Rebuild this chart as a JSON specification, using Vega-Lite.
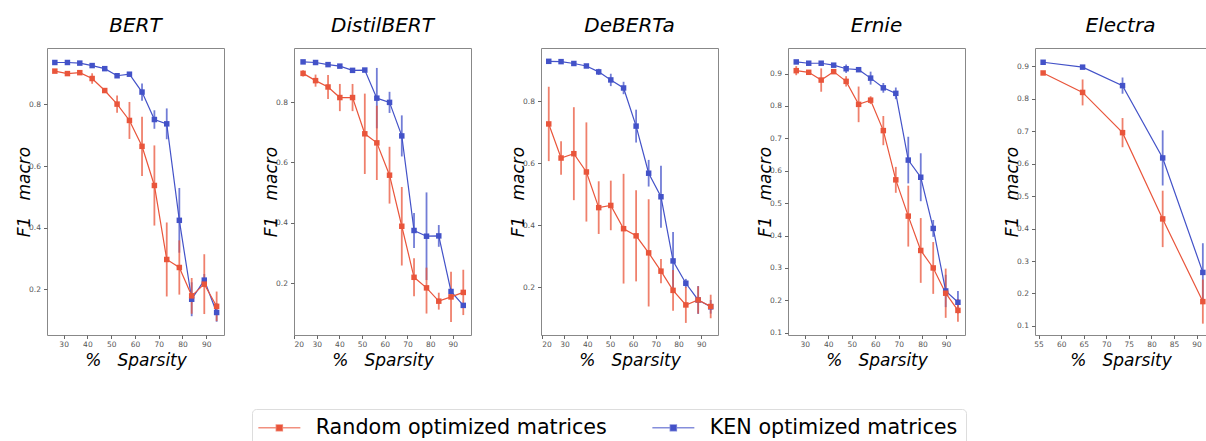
{
  "$schema": "https://vega.github.io/schema/vega-lite/v6.json",
  "autosize": {"type": "none"},
  "padding": {"left": 47, "top": 48, "right": 1159, "bottom": 393},
  "background": "white",
  "bounds": "flush",
  "spacing": 70,
  "config": {
    "view": {"stroke": "#888", "strokeWidth": 1},
    "font": "DejaVu Sans",
    "axis": {"labelFont": "DejaVu Sans", "labelFontSize": 7.5, "labelColor": "#555", "tickColor": "#666", "tickSize": 3.5, "domain": false, "grid": false, "titleFont": "DejaVu Sans", "titleFontSize": 17, "titleFontStyle": "italic", "titleFontWeight": "normal", "titleColor": "black"},
    "axisX": {"labelPadding": 2, "titlePadding": 4},
    "axisY": {"labelPadding": 3, "titlePadding": -5},
    "title": {"font": "DejaVu Sans", "fontSize": 20, "fontStyle": "italic", "fontWeight": "normal", "color": "black", "frame": "group", "anchor": "middle", "offset": 12},
    "legend": {"orient": "none", "legendX": 205, "legendY": 361, "direction": "horizontal", "title": null, "labelFont": "DejaVu Sans", "labelFontSize": 20.7, "labelColor": "black", "labelLimit": 500, "symbolType": "M-3,0H7.5M1.5,-0.7H3V0.7H1.5Z", "symbolSize": 64, "symbolStrokeWidth": 1.5, "labelOffset": 35, "columnPadding": 42, "padding": 8, "strokeColor": "#ddd", "fillColor": "white", "cornerRadius": 4}
  },
  "datasets": {
    "d": [
      {"m": "BERT", "s": "KEN optimized matrices", "x": 26.3, "y": 0.936, "lo": 0.931, "hi": 0.941},
      {"m": "BERT", "s": "KEN optimized matrices", "x": 31.6, "y": 0.936, "lo": 0.931, "hi": 0.941},
      {"m": "BERT", "s": "KEN optimized matrices", "x": 36.8, "y": 0.934, "lo": 0.929, "hi": 0.939},
      {"m": "BERT", "s": "KEN optimized matrices", "x": 42.0, "y": 0.926, "lo": 0.920, "hi": 0.932},
      {"m": "BERT", "s": "KEN optimized matrices", "x": 47.3, "y": 0.916, "lo": 0.910, "hi": 0.922},
      {"m": "BERT", "s": "KEN optimized matrices", "x": 52.5, "y": 0.893, "lo": 0.887, "hi": 0.899},
      {"m": "BERT", "s": "KEN optimized matrices", "x": 57.7, "y": 0.898, "lo": 0.892, "hi": 0.904},
      {"m": "BERT", "s": "KEN optimized matrices", "x": 63.0, "y": 0.840, "lo": 0.812, "hi": 0.868},
      {"m": "BERT", "s": "KEN optimized matrices", "x": 68.2, "y": 0.751, "lo": 0.721, "hi": 0.781},
      {"m": "BERT", "s": "KEN optimized matrices", "x": 73.4, "y": 0.737, "lo": 0.687, "hi": 0.787},
      {"m": "BERT", "s": "KEN optimized matrices", "x": 78.7, "y": 0.424, "lo": 0.319, "hi": 0.529},
      {"m": "BERT", "s": "KEN optimized matrices", "x": 83.9, "y": 0.168, "lo": 0.113, "hi": 0.223},
      {"m": "BERT", "s": "KEN optimized matrices", "x": 89.2, "y": 0.230, "lo": 0.210, "hi": 0.250},
      {"m": "BERT", "s": "KEN optimized matrices", "x": 94.4, "y": 0.125, "lo": 0.095, "hi": 0.155},
      {"m": "BERT", "s": "Random optimized matrices", "x": 26.3, "y": 0.908, "lo": 0.902, "hi": 0.914},
      {"m": "BERT", "s": "Random optimized matrices", "x": 31.6, "y": 0.900, "lo": 0.894, "hi": 0.906},
      {"m": "BERT", "s": "Random optimized matrices", "x": 36.8, "y": 0.903, "lo": 0.898, "hi": 0.908},
      {"m": "BERT", "s": "Random optimized matrices", "x": 42.0, "y": 0.884, "lo": 0.867, "hi": 0.901},
      {"m": "BERT", "s": "Random optimized matrices", "x": 47.3, "y": 0.845, "lo": 0.839, "hi": 0.851},
      {"m": "BERT", "s": "Random optimized matrices", "x": 52.5, "y": 0.801, "lo": 0.773, "hi": 0.829},
      {"m": "BERT", "s": "Random optimized matrices", "x": 57.7, "y": 0.748, "lo": 0.688, "hi": 0.808},
      {"m": "BERT", "s": "Random optimized matrices", "x": 63.0, "y": 0.664, "lo": 0.568, "hi": 0.760},
      {"m": "BERT", "s": "Random optimized matrices", "x": 68.2, "y": 0.537, "lo": 0.407, "hi": 0.667},
      {"m": "BERT", "s": "Random optimized matrices", "x": 73.4, "y": 0.297, "lo": 0.177, "hi": 0.417},
      {"m": "BERT", "s": "Random optimized matrices", "x": 78.7, "y": 0.271, "lo": 0.183, "hi": 0.359},
      {"m": "BERT", "s": "Random optimized matrices", "x": 83.9, "y": 0.179, "lo": 0.121, "hi": 0.237},
      {"m": "BERT", "s": "Random optimized matrices", "x": 89.2, "y": 0.217, "lo": 0.120, "hi": 0.314},
      {"m": "BERT", "s": "Random optimized matrices", "x": 94.4, "y": 0.145, "lo": 0.097, "hi": 0.193},

      {"m": "DistilBERT", "s": "KEN optimized matrices", "x": 24.0, "y": 0.933, "lo": 0.928, "hi": 0.938},
      {"m": "DistilBERT", "s": "KEN optimized matrices", "x": 29.5, "y": 0.931, "lo": 0.926, "hi": 0.936},
      {"m": "DistilBERT", "s": "KEN optimized matrices", "x": 35.0, "y": 0.924, "lo": 0.919, "hi": 0.929},
      {"m": "DistilBERT", "s": "KEN optimized matrices", "x": 40.2, "y": 0.919, "lo": 0.914, "hi": 0.924},
      {"m": "DistilBERT", "s": "KEN optimized matrices", "x": 45.8, "y": 0.905, "lo": 0.899, "hi": 0.911},
      {"m": "DistilBERT", "s": "KEN optimized matrices", "x": 51.2, "y": 0.906, "lo": 0.900, "hi": 0.912},
      {"m": "DistilBERT", "s": "KEN optimized matrices", "x": 56.5, "y": 0.813, "lo": 0.713, "hi": 0.913},
      {"m": "DistilBERT", "s": "KEN optimized matrices", "x": 62.1, "y": 0.799, "lo": 0.764, "hi": 0.834},
      {"m": "DistilBERT", "s": "KEN optimized matrices", "x": 67.5, "y": 0.688, "lo": 0.620, "hi": 0.756},
      {"m": "DistilBERT", "s": "KEN optimized matrices", "x": 72.9, "y": 0.375, "lo": 0.317, "hi": 0.433},
      {"m": "DistilBERT", "s": "KEN optimized matrices", "x": 78.4, "y": 0.356, "lo": 0.211, "hi": 0.501},
      {"m": "DistilBERT", "s": "KEN optimized matrices", "x": 83.8, "y": 0.357, "lo": 0.321, "hi": 0.393},
      {"m": "DistilBERT", "s": "KEN optimized matrices", "x": 89.2, "y": 0.173, "lo": 0.163, "hi": 0.183},
      {"m": "DistilBERT", "s": "KEN optimized matrices", "x": 94.6, "y": 0.127, "lo": 0.119, "hi": 0.135},
      {"m": "DistilBERT", "s": "Random optimized matrices", "x": 24.0, "y": 0.895, "lo": 0.885, "hi": 0.905},
      {"m": "DistilBERT", "s": "Random optimized matrices", "x": 29.5, "y": 0.871, "lo": 0.851, "hi": 0.891},
      {"m": "DistilBERT", "s": "Random optimized matrices", "x": 35.0, "y": 0.850, "lo": 0.810, "hi": 0.890},
      {"m": "DistilBERT", "s": "Random optimized matrices", "x": 40.2, "y": 0.815, "lo": 0.770, "hi": 0.860},
      {"m": "DistilBERT", "s": "Random optimized matrices", "x": 45.8, "y": 0.815, "lo": 0.770, "hi": 0.860},
      {"m": "DistilBERT", "s": "Random optimized matrices", "x": 51.2, "y": 0.695, "lo": 0.562, "hi": 0.828},
      {"m": "DistilBERT", "s": "Random optimized matrices", "x": 56.5, "y": 0.665, "lo": 0.542, "hi": 0.788},
      {"m": "DistilBERT", "s": "Random optimized matrices", "x": 62.1, "y": 0.558, "lo": 0.464, "hi": 0.652},
      {"m": "DistilBERT", "s": "Random optimized matrices", "x": 67.5, "y": 0.389, "lo": 0.259, "hi": 0.519},
      {"m": "DistilBERT", "s": "Random optimized matrices", "x": 72.9, "y": 0.220, "lo": 0.157, "hi": 0.283},
      {"m": "DistilBERT", "s": "Random optimized matrices", "x": 78.4, "y": 0.185, "lo": 0.100, "hi": 0.252},
      {"m": "DistilBERT", "s": "Random optimized matrices", "x": 83.8, "y": 0.141, "lo": 0.113, "hi": 0.169},
      {"m": "DistilBERT", "s": "Random optimized matrices", "x": 89.2, "y": 0.155, "lo": 0.072, "hi": 0.238},
      {"m": "DistilBERT", "s": "Random optimized matrices", "x": 94.6, "y": 0.170, "lo": 0.095, "hi": 0.245},

      {"m": "DeBERTa", "s": "KEN optimized matrices", "x": 23.1, "y": 0.929, "lo": 0.924, "hi": 0.934},
      {"m": "DeBERTa", "s": "KEN optimized matrices", "x": 28.5, "y": 0.928, "lo": 0.923, "hi": 0.933},
      {"m": "DeBERTa", "s": "KEN optimized matrices", "x": 34.1, "y": 0.922, "lo": 0.917, "hi": 0.927},
      {"m": "DeBERTa", "s": "KEN optimized matrices", "x": 39.6, "y": 0.914, "lo": 0.909, "hi": 0.919},
      {"m": "DeBERTa", "s": "KEN optimized matrices", "x": 45.0, "y": 0.895, "lo": 0.885, "hi": 0.905},
      {"m": "DeBERTa", "s": "KEN optimized matrices", "x": 50.3, "y": 0.869, "lo": 0.849, "hi": 0.889},
      {"m": "DeBERTa", "s": "KEN optimized matrices", "x": 55.9, "y": 0.843, "lo": 0.823, "hi": 0.863},
      {"m": "DeBERTa", "s": "KEN optimized matrices", "x": 61.4, "y": 0.720, "lo": 0.667, "hi": 0.773},
      {"m": "DeBERTa", "s": "KEN optimized matrices", "x": 66.9, "y": 0.568, "lo": 0.525, "hi": 0.611},
      {"m": "DeBERTa", "s": "KEN optimized matrices", "x": 72.3, "y": 0.492, "lo": 0.392, "hi": 0.592},
      {"m": "DeBERTa", "s": "KEN optimized matrices", "x": 77.6, "y": 0.285, "lo": 0.192, "hi": 0.378},
      {"m": "DeBERTa", "s": "KEN optimized matrices", "x": 83.2, "y": 0.213, "lo": 0.199, "hi": 0.227},
      {"m": "DeBERTa", "s": "KEN optimized matrices", "x": 88.6, "y": 0.159, "lo": 0.114, "hi": 0.204},
      {"m": "DeBERTa", "s": "KEN optimized matrices", "x": 94.1, "y": 0.137, "lo": 0.115, "hi": 0.159},
      {"m": "DeBERTa", "s": "Random optimized matrices", "x": 23.1, "y": 0.727, "lo": 0.607, "hi": 0.847},
      {"m": "DeBERTa", "s": "Random optimized matrices", "x": 28.5, "y": 0.617, "lo": 0.563, "hi": 0.671},
      {"m": "DeBERTa", "s": "Random optimized matrices", "x": 34.1, "y": 0.631, "lo": 0.481, "hi": 0.781},
      {"m": "DeBERTa", "s": "Random optimized matrices", "x": 39.6, "y": 0.572, "lo": 0.412, "hi": 0.732},
      {"m": "DeBERTa", "s": "Random optimized matrices", "x": 45.0, "y": 0.457, "lo": 0.372, "hi": 0.542},
      {"m": "DeBERTa", "s": "Random optimized matrices", "x": 50.3, "y": 0.464, "lo": 0.384, "hi": 0.544},
      {"m": "DeBERTa", "s": "Random optimized matrices", "x": 55.9, "y": 0.389, "lo": 0.212, "hi": 0.566},
      {"m": "DeBERTa", "s": "Random optimized matrices", "x": 61.4, "y": 0.366, "lo": 0.219, "hi": 0.513},
      {"m": "DeBERTa", "s": "Random optimized matrices", "x": 66.9, "y": 0.311, "lo": 0.138, "hi": 0.484},
      {"m": "DeBERTa", "s": "Random optimized matrices", "x": 72.3, "y": 0.252, "lo": 0.213, "hi": 0.291},
      {"m": "DeBERTa", "s": "Random optimized matrices", "x": 77.6, "y": 0.190, "lo": 0.124, "hi": 0.256},
      {"m": "DeBERTa", "s": "Random optimized matrices", "x": 83.2, "y": 0.143, "lo": 0.085, "hi": 0.201},
      {"m": "DeBERTa", "s": "Random optimized matrices", "x": 88.6, "y": 0.159, "lo": 0.115, "hi": 0.203},
      {"m": "DeBERTa", "s": "Random optimized matrices", "x": 94.1, "y": 0.138, "lo": 0.100, "hi": 0.176},

      {"m": "Ernie", "s": "KEN optimized matrices", "x": 26.4, "y": 0.936, "lo": 0.931, "hi": 0.941},
      {"m": "Ernie", "s": "KEN optimized matrices", "x": 31.7, "y": 0.932, "lo": 0.927, "hi": 0.937},
      {"m": "Ernie", "s": "KEN optimized matrices", "x": 37.0, "y": 0.932, "lo": 0.927, "hi": 0.937},
      {"m": "Ernie", "s": "KEN optimized matrices", "x": 42.3, "y": 0.926, "lo": 0.921, "hi": 0.931},
      {"m": "Ernie", "s": "KEN optimized matrices", "x": 47.6, "y": 0.915, "lo": 0.902, "hi": 0.928},
      {"m": "Ernie", "s": "KEN optimized matrices", "x": 52.9, "y": 0.912, "lo": 0.906, "hi": 0.918},
      {"m": "Ernie", "s": "KEN optimized matrices", "x": 58.0, "y": 0.886, "lo": 0.866, "hi": 0.906},
      {"m": "Ernie", "s": "KEN optimized matrices", "x": 63.4, "y": 0.856, "lo": 0.841, "hi": 0.871},
      {"m": "Ernie", "s": "KEN optimized matrices", "x": 68.7, "y": 0.839, "lo": 0.821, "hi": 0.857},
      {"m": "Ernie", "s": "KEN optimized matrices", "x": 74.0, "y": 0.633, "lo": 0.561, "hi": 0.705},
      {"m": "Ernie", "s": "KEN optimized matrices", "x": 79.3, "y": 0.580, "lo": 0.506, "hi": 0.654},
      {"m": "Ernie", "s": "KEN optimized matrices", "x": 84.6, "y": 0.422, "lo": 0.396, "hi": 0.448},
      {"m": "Ernie", "s": "KEN optimized matrices", "x": 89.9, "y": 0.229, "lo": 0.179, "hi": 0.279},
      {"m": "Ernie", "s": "KEN optimized matrices", "x": 95.1, "y": 0.194, "lo": 0.159, "hi": 0.229},
      {"m": "Ernie", "s": "Random optimized matrices", "x": 26.4, "y": 0.909, "lo": 0.895, "hi": 0.923},
      {"m": "Ernie", "s": "Random optimized matrices", "x": 31.7, "y": 0.904, "lo": 0.898, "hi": 0.910},
      {"m": "Ernie", "s": "Random optimized matrices", "x": 37.0, "y": 0.880, "lo": 0.844, "hi": 0.916},
      {"m": "Ernie", "s": "Random optimized matrices", "x": 42.3, "y": 0.906, "lo": 0.900, "hi": 0.912},
      {"m": "Ernie", "s": "Random optimized matrices", "x": 47.6, "y": 0.876, "lo": 0.860, "hi": 0.892},
      {"m": "Ernie", "s": "Random optimized matrices", "x": 52.9, "y": 0.805, "lo": 0.750, "hi": 0.860},
      {"m": "Ernie", "s": "Random optimized matrices", "x": 58.0, "y": 0.818, "lo": 0.806, "hi": 0.830},
      {"m": "Ernie", "s": "Random optimized matrices", "x": 63.4, "y": 0.724, "lo": 0.679, "hi": 0.769},
      {"m": "Ernie", "s": "Random optimized matrices", "x": 68.7, "y": 0.572, "lo": 0.532, "hi": 0.612},
      {"m": "Ernie", "s": "Random optimized matrices", "x": 74.0, "y": 0.460, "lo": 0.366, "hi": 0.554},
      {"m": "Ernie", "s": "Random optimized matrices", "x": 79.3, "y": 0.354, "lo": 0.254, "hi": 0.454},
      {"m": "Ernie", "s": "Random optimized matrices", "x": 84.6, "y": 0.300, "lo": 0.220, "hi": 0.380},
      {"m": "Ernie", "s": "Random optimized matrices", "x": 89.9, "y": 0.222, "lo": 0.146, "hi": 0.298},
      {"m": "Ernie", "s": "Random optimized matrices", "x": 95.1, "y": 0.169, "lo": 0.134, "hi": 0.204},

      {"m": "Electra", "s": "KEN optimized matrices", "x": 56.0, "y": 0.913, "lo": 0.909, "hi": 0.917},
      {"m": "Electra", "s": "KEN optimized matrices", "x": 64.75, "y": 0.898, "lo": 0.894, "hi": 0.902},
      {"m": "Electra", "s": "KEN optimized matrices", "x": 73.6, "y": 0.841, "lo": 0.816, "hi": 0.866},
      {"m": "Electra", "s": "KEN optimized matrices", "x": 82.5, "y": 0.618, "lo": 0.533, "hi": 0.703},
      {"m": "Electra", "s": "KEN optimized matrices", "x": 91.4, "y": 0.265, "lo": 0.175, "hi": 0.355},
      {"m": "Electra", "s": "Random optimized matrices", "x": 56.0, "y": 0.880, "lo": 0.876, "hi": 0.884},
      {"m": "Electra", "s": "Random optimized matrices", "x": 64.75, "y": 0.820, "lo": 0.780, "hi": 0.860},
      {"m": "Electra", "s": "Random optimized matrices", "x": 73.6, "y": 0.696, "lo": 0.651, "hi": 0.741},
      {"m": "Electra", "s": "Random optimized matrices", "x": 82.5, "y": 0.430, "lo": 0.343, "hi": 0.517},
      {"m": "Electra", "s": "Random optimized matrices", "x": 91.4, "y": 0.175, "lo": 0.107, "hi": 0.243}
    ]
  },
  "hconcat": [
    {
      "width": 177, "height": 287,
      "title": "BERT",
      "data": {"name": "d"},
      "transform": [{"filter": {"field": "m", "equal": "BERT"}}],
      "encoding": {
        "x": {"field": "x", "type": "quantitative", "title": "%\u00a0\u00a0\u00a0Sparsity", "scale": {"domain": [23, 97.5], "nice": false, "zero": false}, "axis": {"values": [30, 40, 50, 60, 70, 80, 90]}},
        "y": {"field": "y", "type": "quantitative", "title": "F1\u00a0\u00a0\u00a0macro", "scale": {"domain": [0.052, 0.983], "nice": false, "zero": false}, "axis": {"values": [0.2, 0.4, 0.6, 0.8]}},
        "color": {"field": "s", "type": "nominal", "scale": {"domain": ["Random optimized matrices", "KEN optimized matrices"], "range": ["#e9553b", "#4352c8"]}, "legend": {"encode": {"symbols": {"update": {"fill": {"scale": "color", "field": "value"}, "stroke": {"scale": "color", "field": "value"}, "opacity": {"value": 1}, "strokeOpacity": {"value": 0.65}, "fillOpacity": {"value": 1}}}}}}
      },
      "layer": [
        {"mark": {"type": "rule", "strokeWidth": 1.8, "opacity": 0.75}, "encoding": {"y": {"field": "lo", "type": "quantitative", "title": "F1\u00a0\u00a0\u00a0macro"}, "y2": {"field": "hi"}}},
        {"mark": {"type": "line", "strokeWidth": 1.2}},
        {"mark": {"type": "point", "shape": "square", "filled": true, "size": 30, "opacity": 1}}
      ]
    },
    {
      "width": 177, "height": 287,
      "title": "DistilBERT",
      "data": {"name": "d"},
      "transform": [{"filter": {"field": "m", "equal": "DistilBERT"}}],
      "encoding": {
        "x": {"field": "x", "type": "quantitative", "title": "%\u00a0\u00a0\u00a0Sparsity", "scale": {"domain": [20, 98], "nice": false, "zero": false}, "axis": {"values": [20, 30, 40, 50, 60, 70, 80, 90]}},
        "y": {"field": "y", "type": "quantitative", "title": "F1\u00a0\u00a0\u00a0macro", "scale": {"domain": [0.029, 0.979], "nice": false, "zero": false}, "axis": {"values": [0.2, 0.4, 0.6, 0.8]}},
        "color": {"field": "s", "type": "nominal"}
      },
      "layer": [
        {"mark": {"type": "rule", "strokeWidth": 1.8, "opacity": 0.75}, "encoding": {"y": {"field": "lo", "type": "quantitative", "title": "F1\u00a0\u00a0\u00a0macro"}, "y2": {"field": "hi"}}},
        {"mark": {"type": "line", "strokeWidth": 1.2}},
        {"mark": {"type": "point", "shape": "square", "filled": true, "size": 30, "opacity": 1}}
      ]
    },
    {
      "width": 177, "height": 287,
      "title": "DeBERTa",
      "data": {"name": "d"},
      "transform": [{"filter": {"field": "m", "equal": "DeBERTa"}}],
      "encoding": {
        "x": {"field": "x", "type": "quantitative", "title": "%\u00a0\u00a0\u00a0Sparsity", "scale": {"domain": [19.7, 97.3], "nice": false, "zero": false}, "axis": {"values": [20, 30, 40, 50, 60, 70, 80, 90]}},
        "y": {"field": "y", "type": "quantitative", "title": "F1\u00a0\u00a0\u00a0macro", "scale": {"domain": [0.046, 0.972], "nice": false, "zero": false}, "axis": {"values": [0.2, 0.4, 0.6, 0.8]}},
        "color": {"field": "s", "type": "nominal"}
      },
      "layer": [
        {"mark": {"type": "rule", "strokeWidth": 1.8, "opacity": 0.75}, "encoding": {"y": {"field": "lo", "type": "quantitative", "title": "F1\u00a0\u00a0\u00a0macro"}, "y2": {"field": "hi"}}},
        {"mark": {"type": "line", "strokeWidth": 1.2}},
        {"mark": {"type": "point", "shape": "square", "filled": true, "size": 30, "opacity": 1}}
      ]
    },
    {
      "width": 177, "height": 287,
      "title": "Ernie",
      "data": {"name": "d"},
      "transform": [{"filter": {"field": "m", "equal": "Ernie"}}],
      "encoding": {
        "x": {"field": "x", "type": "quantitative", "title": "%\u00a0\u00a0\u00a0Sparsity", "scale": {"domain": [22.9, 98.1], "nice": false, "zero": false}, "axis": {"values": [30, 40, 50, 60, 70, 80, 90]}},
        "y": {"field": "y", "type": "quantitative", "title": "F1\u00a0\u00a0\u00a0macro", "scale": {"domain": [0.093, 0.979], "nice": false, "zero": false}, "axis": {"values": [0.1, 0.2, 0.3, 0.4, 0.5, 0.6, 0.7, 0.8, 0.9]}},
        "color": {"field": "s", "type": "nominal"}
      },
      "layer": [
        {"mark": {"type": "rule", "strokeWidth": 1.8, "opacity": 0.75}, "encoding": {"y": {"field": "lo", "type": "quantitative", "title": "F1\u00a0\u00a0\u00a0macro"}, "y2": {"field": "hi"}}},
        {"mark": {"type": "line", "strokeWidth": 1.2}},
        {"mark": {"type": "point", "shape": "square", "filled": true, "size": 30, "opacity": 1}}
      ]
    },
    {
      "width": 171, "height": 287,
      "title": "Electra",
      "data": {"name": "d"},
      "transform": [{"filter": {"field": "m", "equal": "Electra"}}],
      "encoding": {
        "x": {"field": "x", "type": "quantitative", "title": "%\u00a0\u00a0\u00a0Sparsity", "scale": {"domain": [54.2, 92.1], "nice": false, "zero": false}, "axis": {"values": [55, 60, 65, 70, 75, 80, 85, 90]}},
        "y": {"field": "y", "type": "quantitative", "title": "F1\u00a0\u00a0\u00a0macro", "scale": {"domain": [0.072, 0.957], "nice": false, "zero": false}, "axis": {"values": [0.1, 0.2, 0.3, 0.4, 0.5, 0.6, 0.7, 0.8, 0.9]}},
        "color": {"field": "s", "type": "nominal"}
      },
      "layer": [
        {"mark": {"type": "rule", "strokeWidth": 1.8, "opacity": 0.75}, "encoding": {"y": {"field": "lo", "type": "quantitative", "title": "F1\u00a0\u00a0\u00a0macro"}, "y2": {"field": "hi"}}},
        {"mark": {"type": "line", "strokeWidth": 1.2}},
        {"mark": {"type": "point", "shape": "square", "filled": true, "size": 30, "opacity": 1}}
      ]
    }
  ]
}
